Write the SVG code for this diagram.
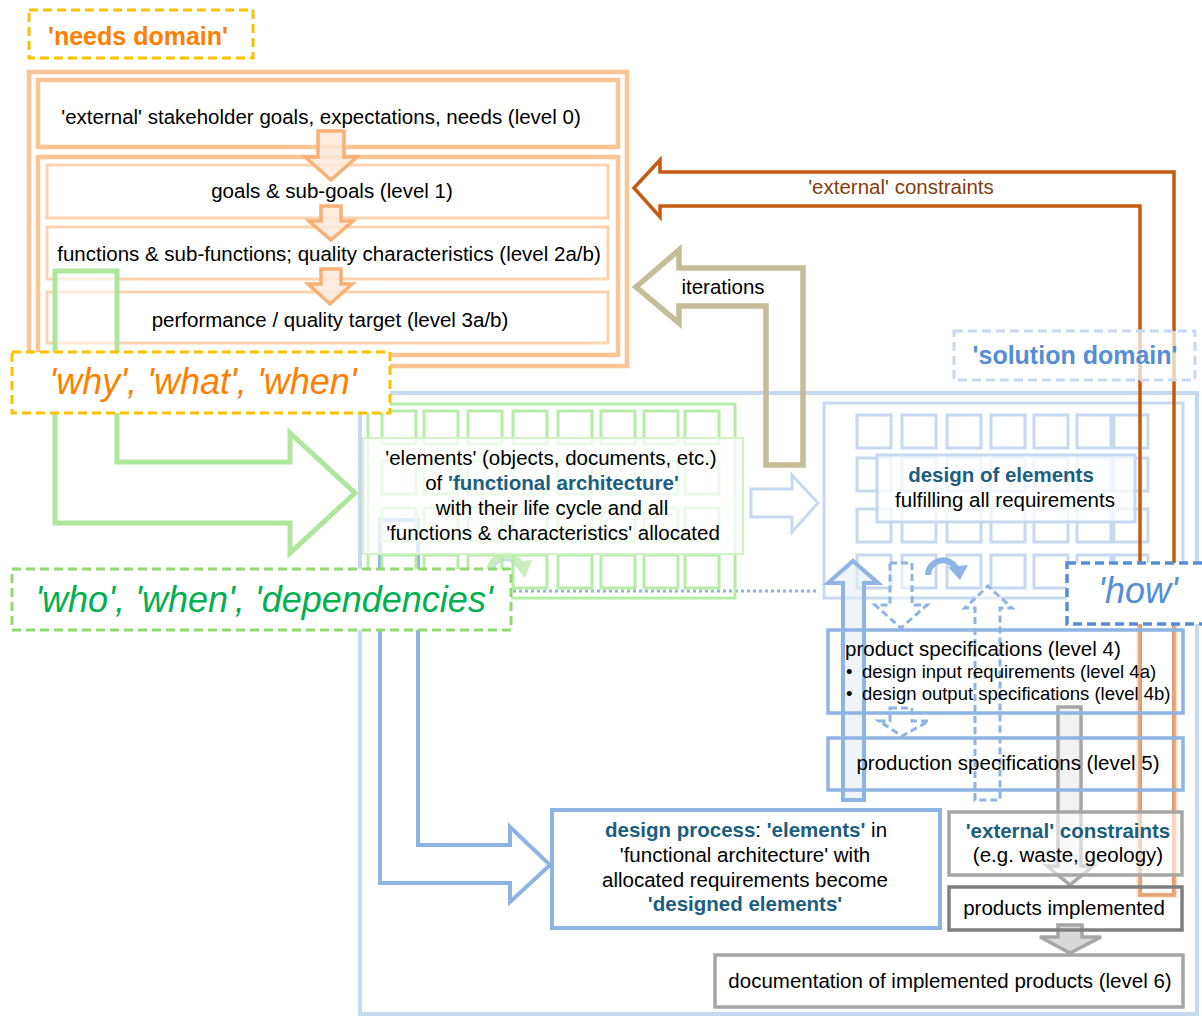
<svg xmlns="http://www.w3.org/2000/svg" xmlns:xlink="http://www.w3.org/1999/xlink" width="1202" height="1016" viewBox="0 0 1202 1016">
<style>
text{font-family:"Liberation Sans",Arial,Helvetica,sans-serif;font-size:20.5px;fill:#000}
.m{text-anchor:middle}
.sm{font-size:18.5px}
.b{font-weight:bold;fill:#1B5E80}
.tag{font-size:25px;font-weight:bold}
.it{font-size:36px;font-style:italic}
.of{fill:none;stroke:#FBC595;stroke-width:4.5}
.ol{fill:none;stroke:#FCD3AE;stroke-width:3}
.oa{fill:#FDE9D9;fill-opacity:.85;stroke:#F9B074;stroke-width:3.5}
.gq{fill:none;stroke:#B5ECA6;stroke-width:3}
.bq{fill:none;stroke:#C6D9F1;stroke-width:3}
.ba{fill:none;stroke:#8DB4E2;stroke-width:4}
.bd{fill:#fff;fill-opacity:.5;stroke:#8DB4E2;stroke-width:3;stroke-dasharray:7 4}
.bx{fill:none;stroke:#8DB4E2;stroke-width:3.5}
.gx{stroke:#A6A6A6;stroke-width:3.5}
.dash{stroke-width:3;stroke-dasharray:9 5}
</style>
<defs>
<path id="green-row" d="M382 0h34v33h-34zm42 0h34v33h-34zm44 0h34v33h-34zm45 0h34v33h-34zm45 0h34v33h-34zm43 0h34v33h-34zm43 0h34v33h-34zm41 0h34v33h-34z"/>
<path id="blue-row" d="M857 0h34v33h-34zm45 0h34v33h-34zm45 0h34v33h-34zm44 0h34v33h-34zm43 0h34v33h-34zm43 0h34v33h-34zm37 0h34v33h-34z"/>
</defs>

<!-- solution domain frame -->
<g id="solution-domain-frame">
<rect x="360" y="393" width="837" height="621" fill="none" stroke="#C6D9F1" stroke-width="4"/>
</g>

<!-- needs domain -->
<g id="needs-domain-label">
<rect x="29" y="10" width="224" height="48" fill="#fff" stroke="#FFC000" class="dash"/>
<text x="138" y="45" class="tag m" style="fill:#FF8000">'needs domain'</text>
</g>
<g id="needs-domain-frame">
<rect x="29" y="72" width="598" height="294" class="of"/>
<rect x="38" y="157" width="580" height="198" class="of"/>
</g>
<g id="level-0">
<rect x="38" y="80" width="580" height="67" class="of"/>
<text x="321" y="124" class="m">'external' stakeholder goals, expectations, needs (level 0)</text>
</g>
<g id="level-1">
<rect x="47" y="165" width="561" height="53" class="ol"/>
<text x="332" y="198" class="m">goals &amp; sub-goals (level 1)</text>
</g>
<g id="level-2">
<rect x="47" y="227" width="561" height="52" class="ol"/>
<text x="329" y="261" class="m">functions &amp; sub-functions; quality characteristics (level 2a/b)</text>
</g>
<g id="level-3">
<rect x="47" y="292" width="561" height="51" class="ol"/>
<text x="330" y="327" class="m">performance / quality target (level 3a/b)</text>
</g>

<!-- design of elements grid -->
<g id="design-of-elements">
<rect x="824" y="403" width="359" height="195" class="bq"/>
<use xlink:href="#blue-row" y="415" class="bq"/>
<use xlink:href="#blue-row" y="458" class="bq"/>
<use xlink:href="#blue-row" y="509" class="bq"/>
<use xlink:href="#blue-row" y="555" class="bq"/>
<rect x="877" y="455" width="258" height="67" fill="#fff" fill-opacity=".75" stroke="#C6D9F1" stroke-width="3"/>
<text x="1001" y="482" class="m b">design of elements</text>
<text x="1005" y="507" class="m">fulfilling all requirements</text>
</g>

<!-- connectors -->
<g id="connectors">
<polygon class="oa" points="318,131 344,131 344,157 357,157 331,180 305,157 318,157"/>
<polygon class="oa" points="321,206 341,206 341,221 353,221 331,240 309,221 321,221"/>
<polygon class="oa" points="321,269 341,269 341,284 352,284 330,304 308,284 321,284"/>
<polygon points="55,271 117,271 117,462 290,462 290,433 355,493 290,553 290,523 55,523" fill="#fff" fill-opacity=".55" stroke="#ADE79C" stroke-width="5"/>
<polygon points="636,287 679,250 679,268 803,268 803,465 766,465 766,306 679,306 679,323" fill="none" stroke="#C4BD97" stroke-width="5.5"/>
<text x="723" y="294" class="m">iterations</text>
<polygon points="634,188 660,160 660,172 1174,172 1174,895 1140,895 1140,206 660,206 660,217" fill="none" stroke="#C55A11" stroke-width="3.5"/>
<path d="M1139 624V895H1175V624" fill="none" stroke="#F8CBAD" stroke-width="5" opacity=".65"/>
<text x="901" y="194" class="m" style="fill:#843C0C">'external' constraints</text>
<polygon points="751,489 792,489 792,475 818,503 792,532 792,517 751,517" fill="#fff" stroke="#C6D9F1" stroke-width="3"/>
<polygon class="ba" points="380,520 418,520 418,845 510,845 510,827 550,865 510,902 510,883 380,883"/>
<path d="M490 572A16 16 0 0 1 521 566" fill="none" stroke="#C9F0BC" stroke-width="7"/>
<polygon points="512,562 532,560 525,578" fill="#C9F0BC"/>
<path d="M493 572A13 13 0 0 1 517 566" fill="none" stroke="#C6D9F1" stroke-width="2"/>
<path d="M513 591H818" stroke="#8DB4E2" stroke-width="3" stroke-dasharray="3 3"/>
<polygon points="843,800 843,583 828,583 853,561 878,583 864,583 864,800" fill="#E4ECF7" fill-opacity=".6" stroke="#8DB4E2" stroke-width="4"/>
<path d="M928 575A15 15 0 0 1 957 570" fill="none" stroke="#8DB4E2" stroke-width="6"/>
<polygon points="948,567 968,565 960,580" fill="#8DB4E2"/>
<polygon class="bd" points="890,563 912,563 912,605 927,605 901,628 875,605 890,605"/>
<polygon class="bd" points="890,708 912,708 912,721 929,721 902,736 879,721 890,721"/>
<polygon class="bd" points="975,800 975,608 965,608 988,586 1012,608 1000,608 1000,800"/>
<polygon class="gx" points="1058,707 1081,707 1081,866 1093,866 1070,885 1047,866 1058,866" fill="#F2F2F2"/>
<polygon class="gx" points="1058,925 1082,925 1082,937 1101,937 1070,953 1040,937 1058,937" fill="#D9D9D9"/>
</g>

<!-- functional architecture grid -->
<g id="functional-architecture">
<rect x="368" y="404" width="367" height="194" class="gq"/>
<use xlink:href="#green-row" y="411" class="gq"/>
<use xlink:href="#green-row" y="461" class="gq"/>
<use xlink:href="#green-row" y="508" class="gq"/>
<use xlink:href="#green-row" y="555" class="gq"/>
<rect x="363" y="438" width="380" height="116" fill="#fff" fill-opacity=".75" stroke="#CFF3C3" stroke-width="2"/>
<text x="551" y="465" class="m">'elements' (objects, documents, etc.)</text>
<text x="552" y="490" class="m">of <tspan class="b">'functional architecture'</tspan></text>
<text x="552" y="515" class="m">with their life cycle and all</text>
<text x="553" y="540" class="m">'functions &amp; characteristics' allocated</text>
</g>

<g id="why-what-when">
<rect x="12" y="352" width="378" height="61" fill="#fff" stroke="#FFC000" class="dash"/>
<text x="203" y="394" class="it m" style="fill:#FF8000">'why', 'what', 'when'</text>
</g>
<g id="who-when-dependencies">
<rect x="12" y="569" width="499" height="61" fill="#fff" stroke="#8EDC6A" class="dash"/>
<text x="264" y="612" class="it m" style="fill:#00B050">'who', 'when', 'dependencies'</text>
</g>

<g id="solution-domain-label">
<rect x="954" y="331" width="241" height="49" fill="#fff" fill-opacity=".7" stroke="#C6D9F1" class="dash"/>
<text x="1075" y="364" class="tag m" style="fill:#558ED5">'solution domain'</text>
</g>
<g id="how">
<rect x="1067" y="563" width="145" height="61" fill="#fff" stroke="#558ED5" stroke-width="3.5" stroke-dasharray="9 5"/>
<text x="1138" y="603" class="it m" style="fill:#558ED5">'how'</text>
</g>

<g id="product-specifications">
<rect x="828" y="630" width="355" height="83" class="bx"/>
<text x="845" y="656">product specifications (level 4)</text>
<text x="846" y="678" class="sm">•</text>
<text x="862" y="678" class="sm">design input requirements (level 4a)</text>
<text x="846" y="700" class="sm">•</text>
<text x="862" y="700" class="sm">design output specifications (level 4b)</text>
</g>
<g id="production-specifications">
<rect x="828" y="738" width="355" height="52" class="bx"/>
<text x="1008" y="770" class="m">production specifications (level 5)</text>
</g>
<g id="design-process">
<rect x="552" y="810" width="388" height="118" fill="#fff" stroke="#8DB4E2" stroke-width="4"/>
<text x="746" y="837" class="m"><tspan class="b">design process</tspan>: <tspan class="b">'elements'</tspan> in</text>
<text x="745" y="862" class="m">'functional architecture' with</text>
<text x="745" y="887" class="m">allocated requirements become</text>
<text x="745" y="911" class="m b">'designed elements'</text>
</g>
<g id="external-constraints">
<rect x="949" y="812" width="233" height="63" fill="#fff" fill-opacity=".55" class="gx"/>
<text x="1068" y="838" class="m b">'external' constraints</text>
<text x="1068" y="862" class="m">(e.g. waste, geology)</text>
</g>
<g id="products-implemented">
<rect x="949" y="887" width="233" height="43" fill="none" stroke="#7F7F7F" stroke-width="3.5"/>
<text x="1064" y="915" class="m">products implemented</text>
</g>
<g id="documentation">
<rect x="715" y="955" width="468" height="52" fill="#fff" class="gx"/>
<text x="950" y="988" class="m">documentation of implemented products (level 6)</text>
</g>
</svg>
